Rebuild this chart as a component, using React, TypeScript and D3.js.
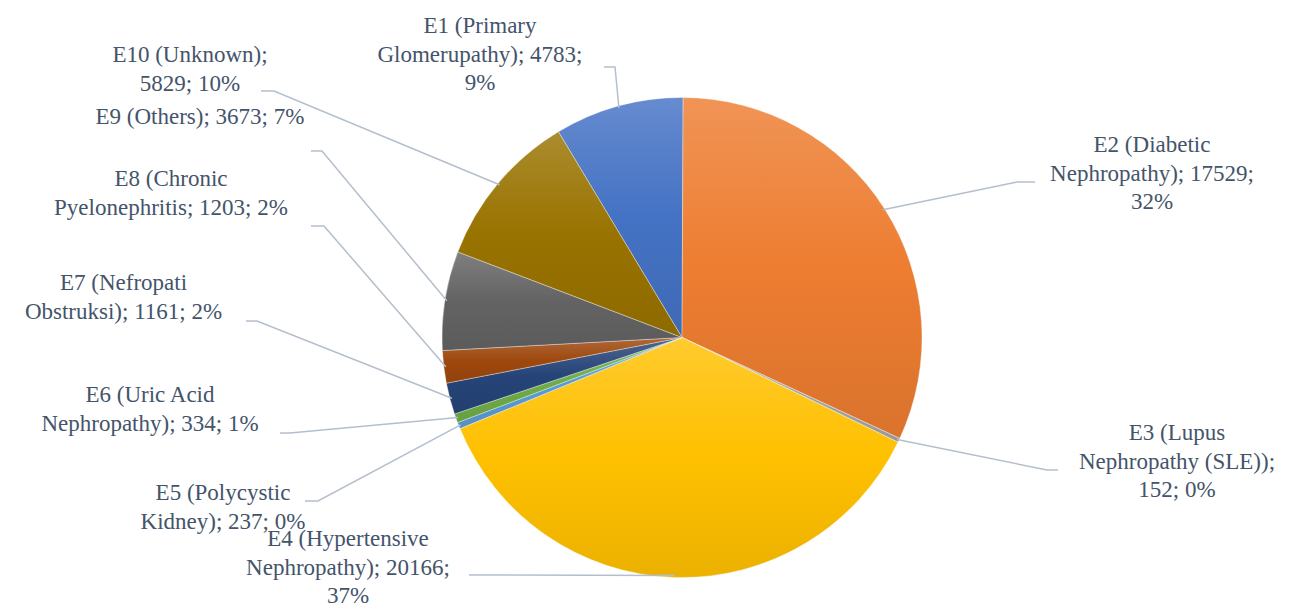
import React, { useEffect, useRef } from "react";
import * as d3 from "d3";

// ---- data ----
const categories = [
  "E1 (Primary Glomerupathy)",
  "E2 (Diabetic Nephropathy)",
  "E3 (Lupus Nephropathy (SLE))",
  "E4 (Hypertensive Nephropathy)",
  "E5 (Polycystic Kidney)",
  "E6 (Uric Acid Nephropathy)",
  "E7 (Nefropati Obstruksi)",
  "E8 (Chronic Pyelonephritis",
  "E9 (Others)",
  "E10 (Unknown)",
];
const values = [4783, 17529, 152, 20166, 237, 334, 1161, 1203, 3673, 5829];
const percentLabels = ["9%", "32%", "0%", "37%", "0%", "1%", "2%", "2%", "7%", "10%"];
// how the label text wraps (line breaks, as in the picture)
const labelLines = [
  ["E1 (Primary", "Glomerupathy); 4783;", "9%"],
  ["E2 (Diabetic", "Nephropathy); 17529;", "32%"],
  ["E3 (Lupus", "Nephropathy (SLE));", "152; 0%"],
  ["E4 (Hypertensive", "Nephropathy); 20166;", "37%"],
  ["E5 (Polycystic", "Kidney); 237; 0%"],
  ["E6 (Uric Acid", "Nephropathy); 334; 1%"],
  ["E7 (Nefropati", "Obstruksi); 1161; 2%"],
  ["E8 (Chronic", "Pyelonephritis; 1203; 2%"],
  ["E9 (Others); 3673; 7%"],
  ["E10 (Unknown);", "5829; 10%"],
];

// ---- style / layout ----
const colors = ["#4472C4", "#ED7D31", "#A5A5A5", "#FFC000", "#5B9BD5", "#70AD47", "#264478", "#9E480E", "#636363", "#997300"];
const W = 1293, H = 607;
const CX = 682, CY = 337.5, R = 240;
const FIRST_SLICE_ANGLE = 329; // degrees
const FONT = 23;
const LINE_H = 28.6;
const TEXT_COLOR = "#44546A";
const LEADER_COLOR = "#B4BFCD";
const FONT_FAMILY = "Times New Roman";
// label anchor: center x, first baseline y
const labelPos = [
  [480, 33], [1152, 152], [1177, 440], [348, 546], [223, 500],
  [150, 402], [123.5, 290], [171, 186], [200, 124], [190, 62],
];
// leader: [start x, y, knee x]
const leaderPos = [
  [604, 67, 615], [1035, 182, 1017], [1058, 470, 1047], [469, 575, 480], [305, 501, 318],
  [280, 433, 290], [246, 321, 257], [311, 226, 324], [311, 151, 322], [261, 91, 274],
];

export default function App() {
  const ref = useRef<SVGSVGElement | null>(null);

  useEffect(() => {
    const svg = d3.select(ref.current);
    svg.selectAll("*").remove();

    const start = (FIRST_SLICE_ANGLE * Math.PI) / 180;
    const pie = d3
      .pie<number>()
      .sort(null)
      .value((d) => d)
      .startAngle(start)
      .endAngle(start + 2 * Math.PI);
    const arcs = pie(values);
    const arcGen = d3.arc<d3.PieArcDatum<number>>().innerRadius(0).outerRadius(R);

    const defs = svg.append("defs");
    colors.forEach((c, i) => {
      const g = defs.append("linearGradient").attr("id", `g${i}`).attr("x1", 0).attr("y1", 0).attr("x2", 0).attr("y2", 1);
      g.append("stop").attr("offset", 0).attr("stop-color", d3.interpolateRgb(c, "#ffffff")(0.18));
      g.append("stop").attr("offset", 0.5).attr("stop-color", c);
      g.append("stop").attr("offset", 1).attr("stop-color", d3.interpolateRgb(c, "#000000")(0.08));
    });

    svg
      .append("g")
      .attr("transform", `translate(${CX},${CY})`)
      .selectAll("path")
      .data(arcs)
      .join("path")
      .attr("d", (d) => arcGen(d) || "")
      .attr("fill", (_d, i) => `url(#g${i})`)
      .attr("stroke", "#ffffff")
      .attr("stroke-width", 0.5)
      .attr("stroke-opacity", 0.7);

    svg
      .append("g")
      .selectAll("polyline")
      .data(arcs)
      .join("polyline")
      .attr("points", (a, i) => {
        const mid = (a.startAngle + a.endAngle) / 2;
        const px = CX + (R - 2) * Math.sin(mid);
        const py = CY - (R - 2) * Math.cos(mid);
        const [sx, sy, kx] = leaderPos[i];
        return `${sx},${sy} ${kx},${sy} ${px},${py}`;
      })
      .attr("fill", "none")
      .attr("stroke", LEADER_COLOR)
      .attr("stroke-width", 1.5);

    const lab = svg.append("g");
    labelLines.forEach((lines, i) => {
      lines.forEach((l, j) => {
        lab
          .append("text")
          .attr("x", labelPos[i][0])
          .attr("y", labelPos[i][1] + j * LINE_H)
          .attr("text-anchor", "middle")
          .attr("fill", TEXT_COLOR)
          .style("font-family", FONT_FAMILY)
          .style("font-size", `${FONT}px`)
          .text(l);
      });
    });
  }, []);

  return <svg ref={ref} width={W} height={H} style={{ position: "absolute", left: 0, top: 0, background: "#fff" }} />;
}
